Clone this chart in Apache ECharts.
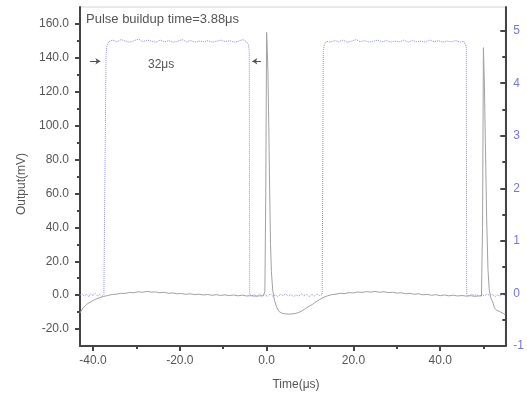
<!DOCTYPE html>
<html>
<head>
<meta charset="utf-8">
<script src="https://cdn.jsdelivr.net/npm/echarts@6/dist/echarts.min.js"></script>
<style>
  html, body { margin: 0; padding: 0; background: #fff; }
  #chart { width: 527px; height: 393px; }
</style>
</head>
<body>
<div id="chart"></div>
<script>
// Detector output (mV, left axis), sampled in microseconds
const outputTime = [
  -43, -42.3, -41.5, -40.6, -39.6, -38.6, -37.6, -36.6, -35.6, -34.6, -33.6, -32.6,
  -31.6, -30.6, -29.6, -28.6, -27.6, -26.6, -25.6, -24.6, -23.6, -22.6, -21.6, -20.6,
  -19.6, -18.6, -17.6, -16.6, -15.6, -14.6, -13.6, -12.6, -11.6, -10.6, -9.6, -8.6,
  -7.6, -6.6, -5.6, -4.6, -3.6, -2.6, -1.6, -0.8, -0.4, -0.2, 0.0, 0.15, 0.3, 0.5,
  0.7, 0.9, 1.1, 1.4, 1.8, 2.3, 2.8, 3.4, 4.2, 5.0, 5.8, 6.6, 7.4, 8.2, 9.0, 9.8,
  10.6, 11.4, 12.2, 13.0, 14.0, 15.0, 16.0, 17.0, 18.0, 19.0, 20.0, 21.0, 22.0, 23.0,
  24.0, 25.0, 26.0, 27.0, 28.0, 29.0, 30.0, 31.0, 32.0, 33.0, 34.0, 35.0, 36.0, 37.0,
  38.0, 39.0, 40.0, 41.0, 42.0, 43.0, 44.0, 45.0, 46.0, 47.0, 48.0, 49.0, 49.5, 49.75,
  49.95, 50.15, 50.4, 50.7, 51.0, 51.3, 51.7, 52.1, 52.5, 53.0, 53.6, 54.3, 55.0
];
const outputMV = [
  -10.5, -7.5, -5.5, -4.0, -2.6, -1.6, -0.8, -0.2, 0.4, 0.6, 1.1, 1.0,
  1.6, 1.4, 2.0, 1.7, 2.2, 1.8, 1.9, 1.4, 1.7, 1.1, 1.3, 0.8,
  1.0, 0.5, 0.8, 0.3, 0.6, 0.1, 0.4, -0.1, 0.3, -0.2, 0.2, -0.3,
  0.1, -0.4, 0.0, -0.5, -0.3, -0.6, -0.4, -0.5, 2, 60, 155, 145, 132, 100,
  62, 30, 14, 3, -3, -7, -9.5, -10.5, -11, -11.2, -11.1, -10.8, -10.2, -9.2, -7.8, -6.5,
  -5.4, -3.8, -2.6, -1.4, -0.4, 0.3, 0.6, 1.1, 0.9, 1.5, 1.3, 1.9, 1.6, 2.1,
  1.8, 2.2, 1.7, 2.0, 1.5, 1.7, 1.2, 1.4, 0.8, 1.1, 0.5, 0.8, 0.2, 0.5,
  -0.1, 0.3, -0.3, 0.1, -0.4, 0.0, -0.5, -0.2, -0.6, -0.3, -0.7, -0.4, -0.5, 40,
  146, 128, 90, 45, 15, 3, -2, -4, -7.5, -9, -9.5, -10.5, -11.5
];

// Gate signal (right axis), square pulses about 33 us wide
const gateTime = [
  -43, -42.5, -42, -41.5, -41, -40.5, -40, -39.5, -39, -38.5, -38, -37.5, -37.1,
  -37.0, -36.8, -36.4, -35.5, -34.5, -33.5, -32.5, -31.5, -30.5, -29.5, -28.5, -27.5,
  -26.5, -25.5, -24.5, -23.5, -22.5, -21.5, -20.5, -19.5, -18.5, -17.5, -16.5, -15.5,
  -14.5, -13.5, -12.5, -11.5, -10.5, -9.5, -8.5, -7.5, -6.5, -5.5, -4.6, -4.2, -4.0,
  -3.9, -3.4, -2.8, -2.2, -1.6, -1.0, -0.4, 0.2, 0.8, 1.4, 2.0, 2.6, 3.2, 3.8, 4.4,
  5.0, 5.6, 6.2, 6.8, 7.4, 8.0, 8.6, 9.2, 9.8, 10.4, 11.0, 11.6, 12.2, 12.8, 12.95,
  13.05, 13.3, 13.8, 14.6, 15.6, 16.6, 17.6, 18.6, 19.6, 20.6, 21.6, 22.6, 23.6, 24.6,
  25.6, 26.6, 27.6, 28.6, 29.6, 30.6, 31.6, 32.6, 33.6, 34.6, 35.6, 36.6, 37.6, 38.6,
  39.6, 40.6, 41.6, 42.6, 43.6, 44.6, 45.4, 45.8, 46.0,
  46.1, 46.6, 47.2, 47.8, 48.4, 49.0, 49.6, 50.2, 50.8, 51.4, 52.0, 52.6, 53.2, 53.8,
  54.4, 55.0
];
const gateLevel = [
  -0.03, -0.01, -0.05, -0.02, -0.06, -0.01, -0.04, 0.00, -0.05, -0.02, -0.06, -0.02, -0.03,
  4.55, 4.72, 4.79, 4.82, 4.79, 4.83, 4.80, 4.78, 4.81, 4.84, 4.79, 4.82,
  4.80, 4.78, 4.82, 4.79, 4.81, 4.78, 4.80, 4.83, 4.79, 4.81, 4.78, 4.80,
  4.79, 4.81, 4.78, 4.80, 4.82, 4.79, 4.81, 4.78, 4.80, 4.83, 4.79, 4.74, 4.60,
  -0.02, -0.05, -0.02, -0.06, -0.01, -0.05, -0.02, -0.06, -0.01, -0.05, -0.03, -0.06, -0.02, -0.04, -0.01,
  -0.05, -0.02, -0.06, -0.03, -0.05, -0.01, -0.04, -0.02, -0.06, -0.02, -0.05, -0.01, -0.04, -0.02, -0.03,
  4.60, 4.74, 4.80, 4.78, 4.81, 4.79, 4.82, 4.78, 4.80, 4.83, 4.79, 4.81, 4.78, 4.80,
  4.82, 4.79, 4.81, 4.78, 4.80, 4.79, 4.82, 4.78, 4.81, 4.79, 4.80, 4.78, 4.82, 4.79,
  4.81, 4.78, 4.80, 4.79, 4.81, 4.78, 4.80, 4.83, 4.70,
  -0.03, -0.05, -0.01, -0.04, -0.02, -0.06, -0.02, -0.05, -0.01, -0.04, -0.02, -0.06, -0.03, -0.05,
  -0.02, -0.04
];

// Tick positions
const timeMajorTicks = [-40, -20, 0, 20, 40];
const timeMinorTicks = [-30, -10, 10, 30, 50];
const mvMajorTicks = [-20, 0, 20, 40, 60, 80, 100, 120, 140, 160];
const mvMinorTicks = [-10, 10, 30, 50, 70, 90, 110, 130, 150];
const gateMajorTicks = [-1, 0, 1, 2, 3, 4, 5];
const gateMinorTicks = [-0.5, 0.5, 1.5, 2.5, 3.5, 4.5];

// Pulse width arrows (time, mV)
const widthArrowY = 138;
const widthArrows = [[-40.7, -38.3], [-1.3, -3.3]];

const zip = (xs, ys) => xs.map((x, i) => [x, ys[i]]);

const AXIS_COLOR = '#444';
const TEXT_COLOR = '#555';
const GATE_COLOR = '#8c8cf2';
const FONT = 'Liberation Sans, Arial, sans-serif';

const chart = echarts.init(document.getElementById('chart'), null, { renderer: 'canvas' });

const timeBase = { type: 'value', min: -43, max: 55, position: 'bottom', splitLine: { show: false } };
const mvBase = { type: 'value', min: -30, max: 170, position: 'left', splitLine: { show: false } };
const gateBase = { type: 'value', min: -1, max: 5.45, position: 'right', splitLine: { show: false } };
const lineOn = { show: true, onZero: false, lineStyle: { color: AXIS_COLOR, width: 2 } };
const lineOff = { show: false, onZero: false };

chart.setOption({
  animation: false,
  backgroundColor: '#fff',
  grid: {
    left: 80, right: 18, top: 7, bottom: 47,
    show: true, borderColor: '#d4d4d4', borderWidth: 1, backgroundColor: 'transparent'
  },
  xAxis: [
    Object.assign({}, timeBase, {
      axisLine: lineOn,
      axisTick: { show: true, customValues: timeMajorTicks, length: 5, lineStyle: { color: AXIS_COLOR, width: 2 } },
      axisLabel: {
        customValues: timeMajorTicks, margin: 9, color: TEXT_COLOR, fontSize: 12, fontFamily: FONT,
        formatter: v => v.toFixed(1)
      }
    }),
    Object.assign({}, timeBase, {
      axisLine: lineOff,
      axisTick: { show: true, customValues: timeMinorTicks, length: 3, lineStyle: { color: AXIS_COLOR, width: 2 } },
      axisLabel: { show: false }
    })
  ],
  yAxis: [
    Object.assign({}, mvBase, {
      axisLine: lineOn,
      axisTick: { show: true, customValues: mvMajorTicks, length: 5, lineStyle: { color: AXIS_COLOR, width: 2 } },
      axisLabel: {
        customValues: mvMajorTicks, margin: 11, color: TEXT_COLOR, fontSize: 12, fontFamily: FONT,
        formatter: v => v.toFixed(1)
      }
    }),
    Object.assign({}, mvBase, {
      axisLine: lineOff,
      axisTick: { show: true, customValues: mvMinorTicks, length: 3, lineStyle: { color: AXIS_COLOR, width: 2 } },
      axisLabel: { show: false }
    }),
    Object.assign({}, gateBase, {
      axisLine: lineOn,
      axisTick: { show: true, inside: true, customValues: gateMajorTicks, length: 5, lineStyle: { color: AXIS_COLOR, width: 2 } },
      axisLabel: {
        customValues: gateMajorTicks, margin: 8, color: '#7575e6', fontSize: 12, fontFamily: FONT,
        formatter: v => String(v)
      }
    }),
    Object.assign({}, gateBase, {
      axisLine: lineOff,
      axisTick: { show: true, inside: true, customValues: gateMinorTicks, length: 3, lineStyle: { color: AXIS_COLOR, width: 2 } },
      axisLabel: { show: false }
    })
  ],
  series: [
    {
      name: 'Gate',
      type: 'line',
      xAxisIndex: 0,
      yAxisIndex: 2,
      data: zip(gateTime, gateLevel),
      showSymbol: false,
      lineStyle: { color: GATE_COLOR, width: 1, type: 'dotted' },
      z: 2
    },
    {
      name: 'Output',
      type: 'line',
      xAxisIndex: 0,
      yAxisIndex: 0,
      data: zip(outputTime, outputMV),
      showSymbol: false,
      lineStyle: { color: '#a2a2a2', width: 1 },
      z: 3,
      markLine: {
        silent: true,
        symbol: ['none', 'arrow'],
        symbolSize: 5,
        label: { show: false },
        lineStyle: { color: '#555', width: 1, type: 'solid' },
        data: widthArrows.map(([from, to]) => [
          { coord: [from, widthArrowY] },
          { coord: [to, widthArrowY] }
        ])
      }
    }
  ],
  graphic: [
    {
      type: 'text', left: 86, top: 13,
      style: { text: 'Pulse buildup time=3.88μs', fill: TEXT_COLOR, font: '13px ' + FONT }
    },
    {
      type: 'text', left: 148, top: 59,
      style: { text: '32μs', fill: TEXT_COLOR, font: '12px ' + FONT }
    },
    {
      type: 'text', x: 22, y: 184, rotation: Math.PI / 2,
      style: { text: 'Output(mV)', fill: TEXT_COLOR, font: '12px ' + FONT, align: 'center', verticalAlign: 'middle' }
    },
    {
      type: 'text', x: 296, y: 385,
      style: { text: 'Time(μs)', fill: TEXT_COLOR, font: '12px ' + FONT, align: 'center', verticalAlign: 'middle' }
    }
  ]
});
</script>
</body>
</html>
